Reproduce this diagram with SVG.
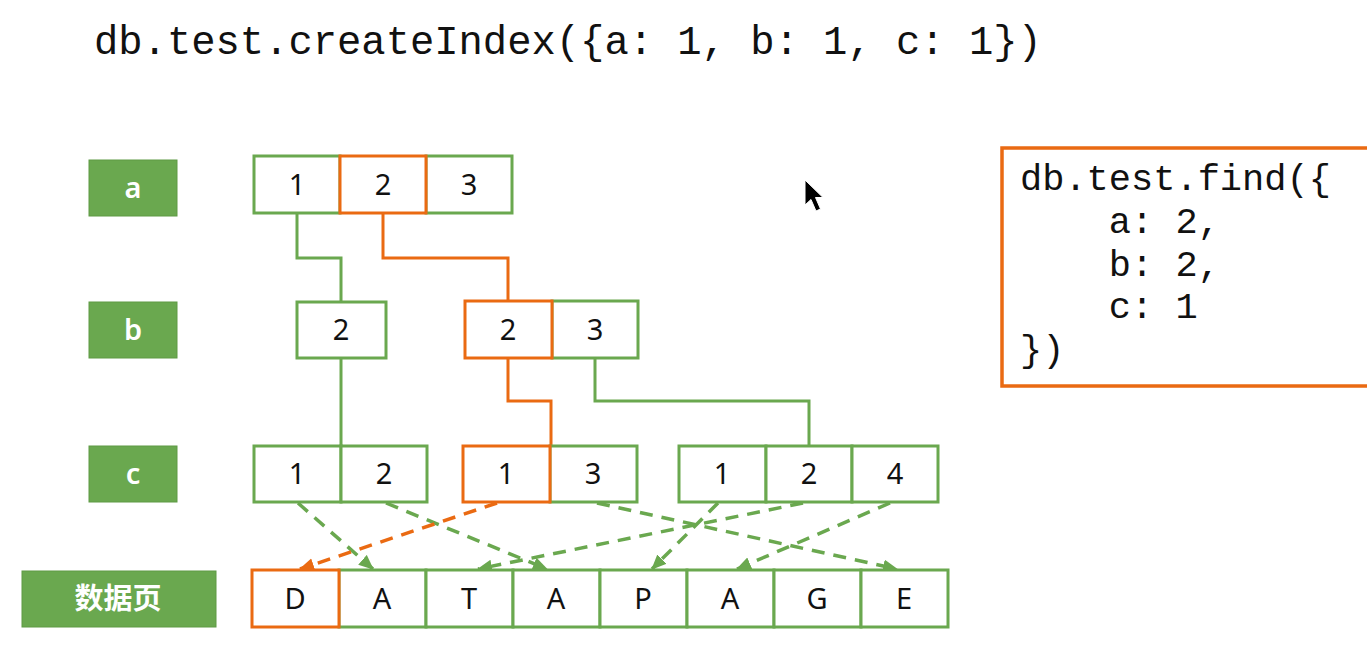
<svg xmlns="http://www.w3.org/2000/svg" width="1367" height="645" viewBox="0 0 1367 645">
<style>
.bg{fill:#ffffff}
.lbl rect{fill:#6aa84f;stroke:#5e9a45;stroke-width:1}
.lbl text{fill:#ffffff;font-family:"Noto Sans","Noto Sans CJK SC",sans-serif;font-size:29px;font-weight:600;text-anchor:middle}
.cell rect{fill:#ffffff;stroke:#6aa84f;stroke-width:3}
.cell rect.hl{stroke:#ea6a12}
.cell text{fill:#111111;font-family:"Noto Sans",sans-serif;font-size:29px;text-anchor:middle}
.code{font-family:"Liberation Mono","Courier New",monospace;fill:#111111}
.conn{fill:none;stroke-width:3;stroke-linejoin:miter}
.g{stroke:#6aa84f}
.o{stroke:#ea6a12}
.dash{fill:none;stroke-width:3.5;stroke-dasharray:13 9}
</style>
<defs>
<marker id="ag" markerUnits="userSpaceOnUse" markerWidth="16" markerHeight="14" refX="14" refY="6.5" orient="auto">
<path d="M0,0 L15,6.5 L0,13 z" fill="#6aa84f"/>
</marker>
<marker id="ao" markerUnits="userSpaceOnUse" markerWidth="16" markerHeight="14" refX="14" refY="6.5" orient="auto">
<path d="M0,0 L15,6.5 L0,13 z" fill="#ea6a12"/>
</marker>
</defs>
<rect class="bg" x="0" y="0" width="1367" height="645"/>

<text id="title" class="code" x="94" y="54" font-size="40.5">db.test.createIndex({a: 1, b: 1, c: 1})</text>

<g id="label-a" class="lbl"><rect x="89" y="160" width="88" height="56"/><text x="133" y="198">a</text></g>
<g id="label-b" class="lbl"><rect x="89" y="302" width="88" height="56"/><text x="133" y="340">b</text></g>
<g id="label-c" class="lbl"><rect x="89" y="446" width="88" height="56"/><text x="133" y="484">c</text></g>
<g id="label-data" class="lbl"><rect x="22" y="571" width="194" height="56"/><text x="118" y="609">数据页</text></g>

<g id="connectors">
<path class="conn g" d="M297,213 V258 H341 V302"/>
<path class="conn g" d="M341,358 V446"/>
<path class="conn g" d="M595,358 V401 H809 V446"/>
<path class="conn o" d="M383,213 V258 H508 V301"/>
<path class="conn o" d="M508,358 V401 H551 V446"/>
<line class="dash g" x1="298" y1="503" x2="373" y2="569" marker-end="url(#ag)"/>
<line class="dash g" x1="386" y1="503" x2="547" y2="569" marker-end="url(#ag)"/>
<line class="dash g" x1="597" y1="503" x2="897" y2="569" marker-end="url(#ag)"/>
<line class="dash g" x1="718" y1="503" x2="652" y2="569" marker-end="url(#ag)"/>
<line class="dash g" x1="803" y1="503" x2="478" y2="569" marker-end="url(#ag)"/>
<line class="dash g" x1="890" y1="503" x2="737" y2="569" marker-end="url(#ag)"/>
<line class="dash o" x1="497" y1="503" x2="300" y2="569" marker-end="url(#ao)"/>
</g>

<g id="node-a" class="cell">
<rect x="254" y="156" width="86" height="57"/><text x="297" y="195">1</text>
<rect x="426" y="156" width="86" height="57"/><text x="469" y="195">3</text>
<rect class="hl" x="340" y="156" width="86" height="57"/><text x="383" y="195">2</text>
</g>

<g id="node-b1" class="cell">
<rect x="297" y="302" width="89" height="56"/><text x="341" y="340">2</text>
</g>
<g id="node-b2" class="cell">
<rect x="552" y="301" width="86" height="57"/><text x="595" y="340">3</text>
<rect class="hl" x="465" y="301" width="87" height="57"/><text x="508" y="340">2</text>
</g>

<g id="node-c1" class="cell">
<rect x="254" y="446" width="87" height="56"/><text x="297" y="484">1</text>
<rect x="341" y="446" width="86" height="56"/><text x="384" y="484">2</text>
</g>
<g id="node-c2" class="cell">
<rect x="550" y="446" width="87" height="56"/><text x="593" y="484">3</text>
<rect class="hl" x="463" y="446" width="87" height="56"/><text x="506" y="484">1</text>
</g>
<g id="node-c3" class="cell">
<rect x="679" y="446" width="87" height="56"/><text x="722" y="484">1</text>
<rect x="766" y="446" width="86" height="56"/><text x="809" y="484">2</text>
<rect x="852" y="446" width="86" height="56"/><text x="895" y="484">4</text>
</g>

<g id="node-data" class="cell">
<rect x="339" y="570" width="87" height="57"/><text x="382" y="609">A</text>
<rect x="426" y="570" width="87" height="57"/><text x="469" y="609">T</text>
<rect x="513" y="570" width="87" height="57"/><text x="556" y="609">A</text>
<rect x="600" y="570" width="87" height="57"/><text x="643" y="609">P</text>
<rect x="687" y="570" width="87" height="57"/><text x="730" y="609">A</text>
<rect x="774" y="570" width="87" height="57"/><text x="817" y="609">G</text>
<rect x="861" y="570" width="87" height="57"/><text x="904" y="609">E</text>
<rect class="hl" x="252" y="570" width="87" height="57"/><text x="295" y="609">D</text>
</g>

<g id="query">
<rect x="1002" y="148" width="380" height="238" fill="#ffffff" stroke="#ea6a12" stroke-width="3.5"/>
<text class="code" font-size="37" xml:space="preserve"><tspan x="1020" y="190">db.test.find({</tspan><tspan x="1020" y="233">    a: 2,</tspan><tspan x="1020" y="276">    b: 2,</tspan><tspan x="1020" y="318">    c: 1</tspan><tspan x="1020" y="361">})</tspan></text>
</g>

<g id="cursor">
<path d="M805,180 L805,205 L811,199.5 L816,211 L820.5,209 L815.5,197.5 L823,197.5 Z" fill="#000000" stroke="#ffffff" stroke-width="1"/>
</g>
</svg>
